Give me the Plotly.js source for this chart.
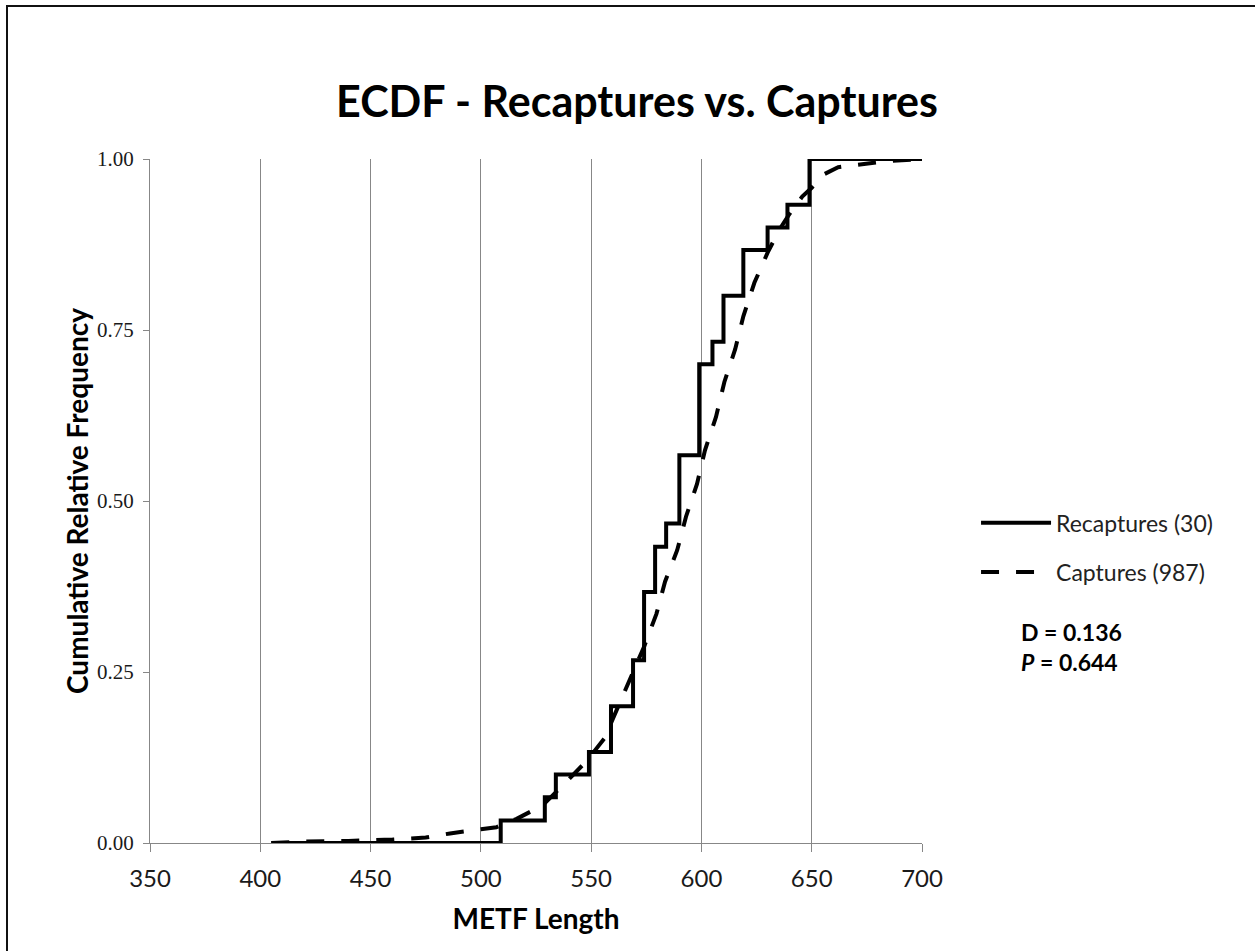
<!DOCTYPE html>
<html>
<head>
<meta charset="utf-8">
<script src="https://cdn.plot.ly/plotly-3.0.1.min.js"></script>
<style>
  html, body { margin: 0; padding: 0; background: #fff; }
  #wrap { position: relative; width: 1255px; height: 951px; overflow: hidden; }
  #chart { position: absolute; left: 0; top: 0; width: 1255px; height: 951px; }
  #frame { position: absolute; left: 6px; top: 5px; width: 1260px; height: 960px;
           border-top: 2px solid #111; border-left: 2px solid #111; pointer-events: none; }
</style>
</head>
<body>
<div id="wrap">
  <div id="chart"></div>
  <div id="frame"></div>
</div>
<script>
// ---- Data ----
const chartTitle = "ECDF - Recaptures vs. Captures";
const xTitle = "METF Length";
const yTitle = "Cumulative Relative Frequency";

const recapName = "Recaptures (30)";
const recapX = [405, 509, 529, 534, 549, 559, 569, 574, 579, 584, 590, 599, 605, 610, 619, 630, 639, 649, 700];
const recapY = [0, 0.033, 0.067, 0.100, 0.133, 0.200, 0.267, 0.367, 0.433, 0.467, 0.567, 0.700, 0.733, 0.800, 0.867, 0.900, 0.933, 1.000, 1.000];

const capName = "Captures (987)";
const capX = [405, 420, 440, 460, 475, 486, 500, 507, 516, 528, 538, 548, 556, 563, 568, 574, 579.6, 583.5, 589, 593, 598, 601.6, 606.6, 610.4, 615.3, 619, 624, 630, 635.4, 640, 645.7, 650, 655.8, 662, 669, 685, 700];
const capY = [0, 0.002, 0.003, 0.005, 0.008, 0.014, 0.020, 0.023, 0.035, 0.055, 0.087, 0.120, 0.153, 0.205, 0.243, 0.287, 0.335, 0.382, 0.428, 0.477, 0.525, 0.574, 0.623, 0.674, 0.722, 0.770, 0.819, 0.863, 0.897, 0.920, 0.945, 0.958, 0.978, 0.988, 0.991, 0.997, 1.000];

const statD = "D = 0.136";
const statP = "0.644";

const xTicks = [350, 400, 450, 500, 550, 600, 650, 700];
const yTicks = [0, 0.25, 0.5, 0.75, 1.0];

// ---- Plot ----
const sans = "Lato, 'Open Sans', sans-serif";
const serif = "'Liberation Serif', 'DejaVu Serif', serif";
const gridGray = "#878787";

const traces = [
  {
    x: recapX, y: recapY, name: recapName, type: "scatter", mode: "lines",
    line: { shape: "hv", color: "#000", width: 4 },
    legend: "legend"
  },
  {
    x: capX, y: capY, name: capName, type: "scatter", mode: "lines",
    line: { color: "#000", width: 4, dash: "18px,17px" },
    legend: "legend2"
  }
];

const layout = {
  width: 1255, height: 951,
  paper_bgcolor: "#fff", plot_bgcolor: "#fff",
  margin: { l: 150, r: 333, t: 159, b: 108, pad: 0 },
  title: {
    text: "<b>" + chartTitle + "</b>",
    font: { family: sans, size: 43, color: "#000" },
    x: 0.5076, xref: "container", xanchor: "center",
    y: 0.893, yref: "container", yanchor: "middle"
  },
  xaxis: {
    range: [350, 700], tickvals: xTicks, ticktext: xTicks.map(String),
    showgrid: true, gridcolor: gridGray, gridwidth: 1,
    showline: true, linecolor: gridGray, linewidth: 1,
    ticks: "outside", ticklen: 8, tickcolor: gridGray, tickwidth: 1,
    ticklabelstandoff: 6,
    tickfont: { family: sans, size: 24, color: "#1a1a1a" },
    zeroline: false, fixedrange: true,
    title: { text: "<b>" + xTitle + "</b>", font: { family: sans, size: 28, color: "#000" }, standoff: 18 }
  },
  yaxis: {
    range: [0, 1], tickvals: yTicks, tickformat: ".2f",
    showgrid: false,
    showline: true, linecolor: gridGray, linewidth: 1,
    ticks: "outside", ticklen: 6, tickcolor: gridGray, tickwidth: 1,
    ticklabelstandoff: 5,
    tickfont: { family: serif, size: 21, color: "#1a1a1a" },
    zeroline: false, fixedrange: true,
    title: { text: "<b>" + yTitle + "</b>", font: { family: sans, size: 28, color: "#000" }, standoff: 0 }
  },
  legend: {
    x: 1.07, y: 0.468, xref: "paper", yref: "paper", xanchor: "left", yanchor: "middle",
    bgcolor: "rgba(0,0,0,0)", borderwidth: 0,
    font: { family: sans, size: 23, color: "#222" },
    itemwidth: 70
  },
  legend2: {
    x: 1.07, y: 0.396, xref: "paper", yref: "paper", xanchor: "left", yanchor: "middle",
    bgcolor: "rgba(0,0,0,0)", borderwidth: 0,
    font: { family: sans, size: 23, color: "#222" },
    itemwidth: 70
  },
  showlegend: true,
  annotations: [
    {
      text: "<b>" + statD + "</b>", xref: "paper", yref: "paper",
      x: 1.125, y: 0.3085, xanchor: "left", yanchor: "middle", showarrow: false,
      font: { family: sans, size: 23, color: "#000" }
    },
    {
      text: "<b><i>P</i> = " + statP + "</b>", xref: "paper", yref: "paper",
      x: 1.125, y: 0.2646, xanchor: "left", yanchor: "middle", showarrow: false,
      font: { family: sans, size: 23, color: "#000" }
    }
  ]
};

Plotly.newPlot("chart", traces, layout, { displayModeBar: false, staticPlot: true });
</script>
</body>
</html>
